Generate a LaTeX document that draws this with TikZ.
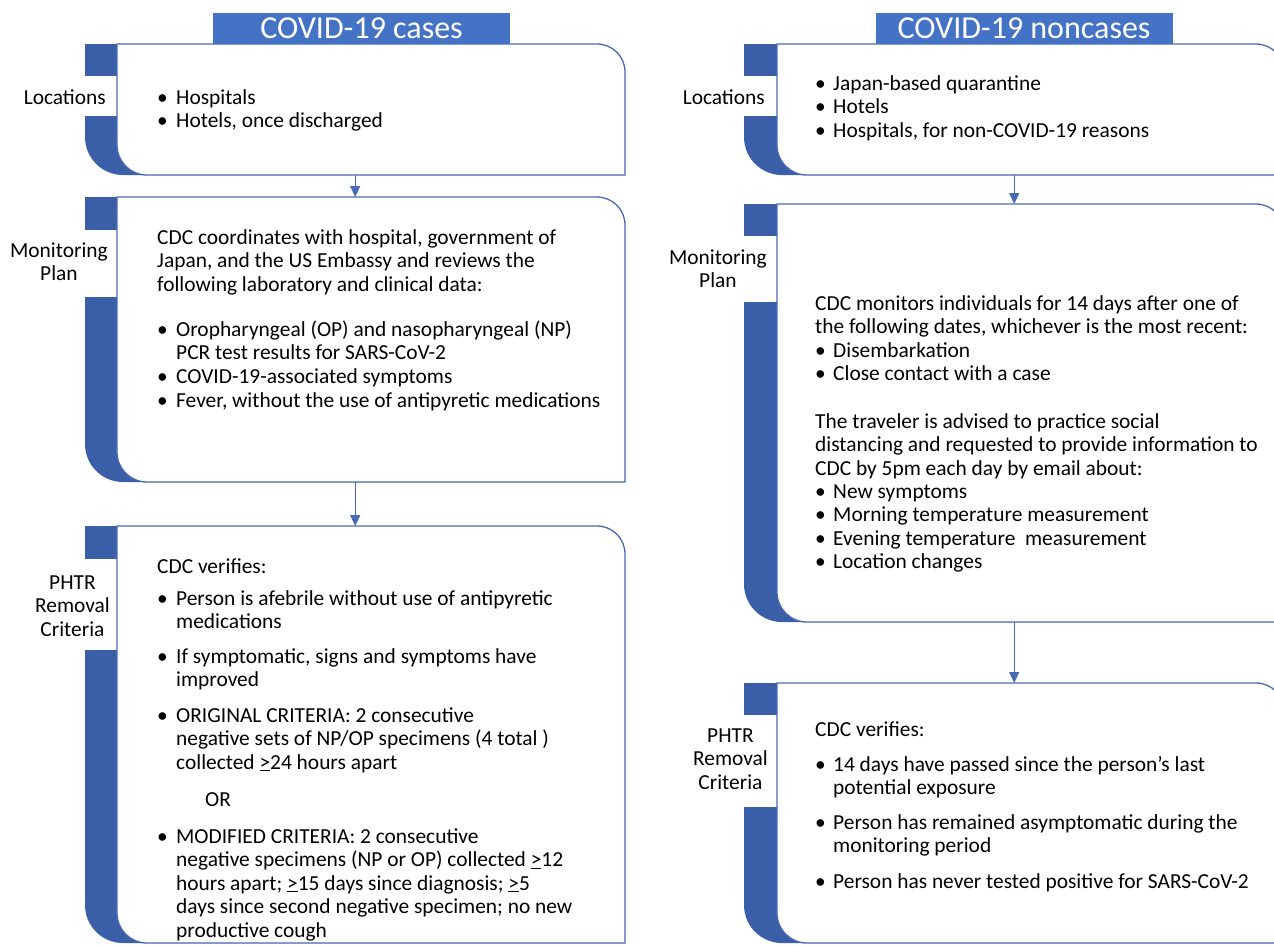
\documentclass[tikz,border=0pt]{standalone}
\usepackage{fontspec}
\setmainfont{Carlito}
\usetikzlibrary{arrows.meta}
\definecolor{stripblue}{RGB}{58,94,168}
\definecolor{titleblue}{RGB}{68,114,196}
\definecolor{lineblue}{RGB}{72,106,180}
\newcommand\bodyfont{\fontsize{21.4}{23.5}\selectfont}
\newcommand\lines[1]{\begin{tabular}[t]{@{}l@{}}#1\end{tabular}}
\newcommand\clines[1]{\begin{tabular}[t]{@{}c@{}}#1\end{tabular}}
\newcommand\geu{\underline{>}}
\tikzset{
  boxline/.style={draw=lineblue, line width=1.3pt},
  txt/.style={anchor=base west, inner sep=0pt, font=\bodyfont},
  lab/.style={anchor=base east, inner sep=0pt, font=\bodyfont},
  titlebox/.style={fill=titleblue, text=white, inner sep=0pt, minimum width=297pt, minimum height=31pt, font=\fontsize{32}{34}\selectfont},
  conn/.style={draw=lineblue, line width=1.3pt, -{Triangle[length=11pt,width=10pt]}},
}
% #1 name, #2 xL, #3 xI, #4 xR, #5 top, #6 bottom, #7 gap top, #8 gap bottom
\newcommand\covbox[8]{%
  \fill[stripblue] (#2,#5) -- ({#4-28},#5) .. controls ({#4-12.5},#5) and (#4,{#5+12.5}) .. (#4,{#5+28})
     -- (#4,#6) -- ({#2+38},#6) .. controls ({#2+17},#6) and (#2,{#6-17}) .. (#2,{#6-38}) -- cycle;
  \fill[white] ({#2-2},#7) rectangle (#3,#8);
  \draw[boxline, fill=white] (#3,#5) -- ({#4-28},#5) .. controls ({#4-12.5},#5) and (#4,{#5+12.5}) .. (#4,{#5+28})
     -- (#4,#6) -- ({#3+30},#6) .. controls ({#3+13.4},#6) and (#3,{#6-13.4}) .. (#3,{#6-30}) -- cycle;
  \node[inner sep=0pt, minimum width={#4-#2}, minimum height={#6-#5}, anchor=north west] (#1) at (#2,#5) {};
}
\newcommand\bul[5]{% name, x, y, offset, text
  \node[txt] (#1b) at (#2,#3) {\textbullet};
  \node[txt] (#1) at ({#2+#4},#3) {\lines{#5}};
}
\begin{document}
\begin{tikzpicture}[x=1pt,y=-1pt]
\useasboundingbox (0,0) rectangle (1274,945);
\clip (0,0) rectangle (1274,945);

% ---------- left column ----------
\covbox{L1}{85}{117}{625}{44}{175}{76}{116}
\covbox{L2}{85}{117}{625}{197}{482}{230}{297}
\covbox{L3}{85}{117}{625}{526}{943}{559}{650}
\node[titlebox] (T1) at (361.5,28.5) {COVID-19 cases};

\draw[conn] (L1.south) -- (L2.north);
\draw[conn] (L2.south) -- (L3.north);

\node[lab] (L1lab) at (106,104) {\clines{Locations}};
\node[lab] (L2lab) at (108,257) {\clines{Monitoring\\Plan}};
\node[lab] (L3lab) at (110,589) {\clines{PHTR\\Removal\\Criteria}};

\bul{l1a}{157}{104}{19}{Hospitals}
\bul{l1b}{157}{127}{19}{Hotels, once discharged}

\node[txt] (l2p) at (157,244) {\lines{CDC coordinates with hospital, government of\\Japan, and the US Embassy and reviews the\\following laboratory and clinical data:}};
\bul{l2a}{157}{336}{19}{Oropharyngeal (OP) and nasopharyngeal (NP)\\PCR test results for SARS-CoV-2}
\bul{l2b}{157}{383}{19}{COVID-19-associated symptoms}
\bul{l2c}{157}{407}{19}{Fever, without the use of antipyretic medications}

\node[txt] (l3p) at (157,573) {CDC verifies:};
\bul{l3a}{157}{605}{19}{Person is afebrile without use of antipyretic\\medications}
\bul{l3b}{157}{663}{19}{If symptomatic, signs and symptoms have\\improved}
\bul{l3c}{157}{722}{19}{ORIGINAL CRITERIA: 2 consecutive\\negative sets of NP/OP specimens (4 total )\\collected \geu24 hours apart}
\node[txt] (l3or) at (205,806) {OR};
\bul{l3d}{157}{843}{19}{MODIFIED CRITERIA: 2 consecutive\\negative specimens (NP or OP) collected \geu12\\hours apart; \geu15 days since diagnosis; \geu5\\days since second negative specimen; no new\\productive cough}

% ---------- right column ----------
\covbox{R1}{744}{777}{1284}{44}{175}{76}{116}
\covbox{R2}{744}{777}{1284}{204}{622}{236}{302}
\covbox{R3}{744}{777}{1284}{683}{943}{715}{807}
\node[titlebox] (T2) at (1024,28.5) {COVID-19 noncases};

\draw[conn] (R1.south) -- (R2.north);
\draw[conn] (R2.south) -- (R3.north);

\node[lab] (R1lab) at (765,104) {\clines{Locations}};
\node[lab] (R2lab) at (767,264) {\clines{Monitoring\\Plan}};
\node[lab] (R3lab) at (768,742) {\clines{PHTR\\Removal\\Criteria}};

\bul{r1a}{815}{90}{18}{Japan-based quarantine}
\bul{r1b}{815}{113.5}{18}{Hotels}
\bul{r1c}{815}{137}{18}{Hospitals, for non-COVID-19 reasons}

\node[txt] (r2p) at (815,310) {\lines{CDC monitors individuals for 14 days after one of\\the following dates, whichever is the most recent:}};
\bul{r2a}{815}{357}{18}{Disembarkation}
\bul{r2b}{815}{380.5}{18}{Close contact with a case}
\node[txt] (r2q) at (815,428) {\lines{The traveler is advised to practice social\\distancing and requested to provide information to\\CDC by 5pm each day by email about:}};
\bul{r2c}{815}{498}{18}{New symptoms}
\bul{r2d}{815}{521.5}{18}{Morning temperature measurement}
\bul{r2e}{815}{545}{18}{Evening temperature\ \ measurement}
\bul{r2f}{815}{568.5}{18}{Location changes}

\node[txt] (r3p) at (815,736) {CDC verifies:};
\bul{r3a}{815}{771}{18}{14 days have passed since the person’s last\\potential exposure}
\bul{r3b}{815}{829}{18}{Person has remained asymptomatic during the\\monitoring period}
\bul{r3c}{815}{888}{18}{Person has never tested positive for SARS-CoV-2}
\end{tikzpicture}
\end{document}
